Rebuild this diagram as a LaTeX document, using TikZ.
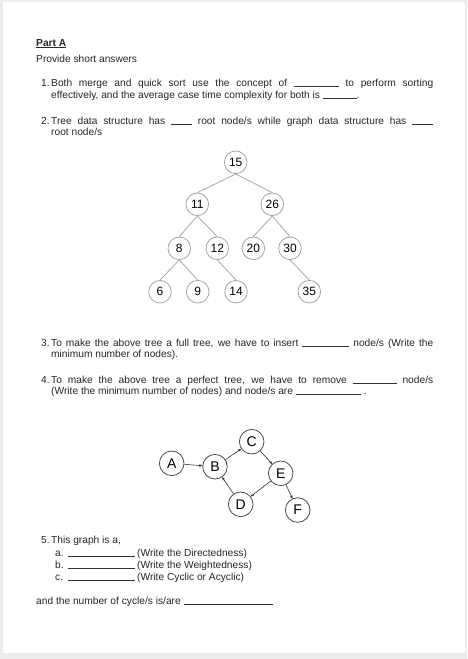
\documentclass[tikz,border=0pt]{standalone}
\usepackage{fontspec}
\setmainfont{Liberation Sans}
\usetikzlibrary{arrows.meta}
\newcommand\ansline[1]{\textcolor{black!80}{\rule[-0.3pt]{#1}{0.6pt}}}
\begin{document}
\begin{tikzpicture}[x=1pt,y=-1pt,
  txt/.style={anchor=base west, inner sep=0pt, font=\fontsize{10.2}{12}\selectfont, text=black!85},
  tnode/.style={circle, draw=gray!75, line width=0.75pt, minimum size=22.6pt, inner sep=0pt, font=\fontsize{12}{12}\selectfont},
  tedge/.style={draw=gray!75, line width=0.7pt},
  gnode/.style={circle, draw=black!70, line width=0.8pt, minimum size=24.6pt, inner sep=0pt, font=\fontsize{14}{14}\selectfont},
  gedge/.style={draw=black!80, line width=0.6pt, -{Stealth[length=3.2pt,width=2.8pt]}},
]
\useasboundingbox (0,0) rectangle (467,659);
\fill[gray!15] (0,0) rectangle (467,659);
\fill[white] (3,2) rectangle (465,653);

% text
\node[txt, font=\bfseries\fontsize{10.2}{12}\selectfont] (parta) at (36,46) {\underline{Part A}};
\node[txt] (intro) at (36,62.7) {Provide short answers};

\node[txt] (n1) at (41,86.7) {1.};
\node[txt] (q1a) at (51,86.7) {\makebox[382pt][s]{Both merge and quick sort use the concept of \ansline{45pt} to perform sorting}};
\node[txt] (q1b) at (51,98.5) {effectively, and the average case time complexity for both is \ansline{34pt}.};

\node[txt] (n2) at (41,124) {2.};
\node[txt] (q2a) at (51,124) {\makebox[382pt][s]{Tree data structure has \ansline{21pt} root node/s while graph data structure has \ansline{21pt}}};
\node[txt] (q2b) at (51,135.5) {root node/s};

\node[txt] (n3) at (41,346) {3.};
\node[txt] (q3a) at (51,346) {\makebox[382pt][s]{To make the above tree a full tree, we have to insert \ansline{47pt} node/s (Write the}};
\node[txt] (q3b) at (51,357.5) {minimum number of nodes).};

\node[txt] (n4) at (41,383) {4.};
\node[txt] (q4a) at (51,383) {\makebox[382pt][s]{To make the above tree a perfect tree, we have to remove \ansline{44pt} node/s}};
\node[txt] (q4b) at (51,394.5) {(Write the minimum number of nodes) and node/s are \ansline{65pt} .};

\node[txt] (n5) at (41,543) {5.};
\node[txt] (q5) at (51,543) {This graph is a,};
\node[txt] (la) at (55,556) {a.};
\node[txt] (ba) at (68,556) {\ansline{67pt}};
\node[txt] (wa) at (137,556) {(Write the Directedness)};
\node[txt] (lb) at (55,568) {b.};
\node[txt] (bb) at (68,568) {\ansline{67pt}};
\node[txt] (wb) at (137,568) {(Write the Weightedness)};
\node[txt] (lc) at (55,580) {c.};
\node[txt] (bc) at (68,580) {\ansline{67pt}};
\node[txt] (wc) at (137,580) {(Write Cyclic or Acyclic)};
\node[txt] (fin) at (36,604) {and the number of cycle/s is/are \ansline{89pt}};

% tree
\node[tnode] (t15) at (235.7,162.3) {15};
\node[tnode] (t11) at (197.3,204.3) {11};
\node[tnode] (t26) at (272.3,204.3) {26};
\node[tnode] (t8)  at (179.3,248.3) {8};
\node[tnode] (t12) at (217.3,248.3) {12};
\node[tnode] (t20) at (253.3,248.3) {20};
\node[tnode] (t30) at (290,248.3) {30};
\node[tnode] (t6)  at (160,291.7) {6};
\node[tnode] (t9)  at (197.7,291.7) {9};
\node[tnode] (t14) at (236,291.7) {14};
\node[tnode] (t35) at (309.3,291.7) {35};
\foreach \p/\c in {t15/t11,t15/t26,t11/t8,t11/t12,t26/t20,t26/t30,t8/t6,t8/t9,t12/t14,t30/t35}
  \draw[tedge] (\p.south) -- (\c.north);

% graph
\node[gnode] (A) at (171.7,463.3) {A};
\node[gnode] (B) at (215,466.7) {B};
\node[gnode] (C) at (251.7,441.7) {C};
\node[gnode] (E) at (280.7,473.3) {E};
\node[gnode] (D) at (240.7,504.3) {D};
\node[gnode] (F) at (297.7,510) {F};
\draw[gedge] (A) -- (B);
\draw[gedge] (B) -- (C);
\draw[gedge] (C) -- (E);
\draw[gedge] (E) -- (D);
\draw[gedge] (D) -- (B);
\draw[gedge] (E) -- (F);
\end{tikzpicture}
\end{document}
